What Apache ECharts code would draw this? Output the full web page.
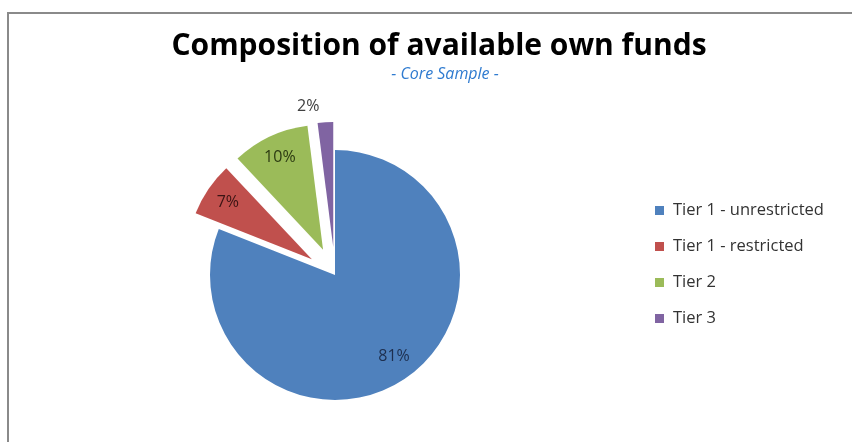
<!DOCTYPE html>
<html>
<head>
<meta charset="utf-8">
<script src="https://cdn.jsdelivr.net/npm/echarts@6/dist/echarts.min.js"></script>
<style>html,body{margin:0;padding:0;background:#fff;}#c{width:852px;height:442px;}</style>
</head>
<body>
<div id="c"></div>
<script>
const categories = ['Tier 1 - unrestricted', 'Tier 1 - restricted', 'Tier 2', 'Tier 3'];
const values = [81, 7, 10, 2];
const exploded = [false, true, true, true];
const colors = ['#4f81bd', '#c0504d', '#9bbb59', '#8064a2'];
const labelColors = ['#1d2f4f', '#3a1414', '#2c3a12', '#404040'];

const chart = echarts.init(document.getElementById('c'), null, {renderer: 'canvas'});

const center = [335, 275];
const R = 125;

const mainData = categories.map((n, i) => ({
  name: n, value: values[i], selected: exploded[i],
  itemStyle: {color: colors[i]}
}));
const labelData = categories.map((n, i) => ({
  name: n, value: values[i], selected: exploded[i],
  itemStyle: {color: 'rgba(0,0,0,0)'},
  label: i === 3
    ? {position: 'outside', color: labelColors[i]}
    : {position: 'inside', color: labelColors[i]}
}));

chart.setOption({
  animation: false,
  backgroundColor: '#ffffff',
  title: [{
    text: 'Composition of available own funds',
    left: 434, top: 26, textAlign: 'center',
    textStyle: {fontFamily: 'Open Sans', fontWeight: 'bold', fontSize: 30, color: '#000'}
  }, {
    text: '- Core Sample -',
    left: 440, top: 61, textAlign: 'center',
    textStyle: {fontFamily: 'Open Sans', fontStyle: 'italic', fontWeight: 'normal', fontSize: 16, color: '#2f7bd0'}
  }],
  graphic: [{
    type: 'rect', silent: true,
    shape: {x: 8, y: 13, width: 900, height: 500},
    style: {fill: 'none', stroke: '#8a8a8a', lineWidth: 2}
  }],
  legend: {
    orient: 'vertical', left: 650, top: 197,
    itemWidth: 9, itemHeight: 9, itemGap: 19,
    icon: 'rect',
    data: categories.map((n, i) => ({name: n, itemStyle: {color: colors[i]}})),
    textStyle: {fontFamily: 'Open Sans', fontSize: 16.5, color: '#333', padding: [0, 0, 0, 4]}
  },
  series: [{
    type: 'pie', center: center, radius: [0, R],
    startAngle: 90, clockwise: true,
    selectedMode: 'multiple', selectedOffset: 28,
    avoidLabelOverlap: false,
    label: {show: false}, labelLine: {show: false},
    emphasis: {disabled: true},
    data: mainData
  }, {
    type: 'pie', center: center, radius: [72, R],
    startAngle: 90, clockwise: true, silent: true,
    selectedMode: 'multiple', selectedOffset: 28,
    avoidLabelOverlap: false,
    legendHoverLink: false,
    label: {show: true, formatter: '{c}%', fontFamily: 'Open Sans', fontSize: 16, offset: [2, -3]},
    labelLine: {show: false, length: 16, length2: 0},
    emphasis: {disabled: true},
    data: labelData
  }]
});
</script>
</body>
</html>
